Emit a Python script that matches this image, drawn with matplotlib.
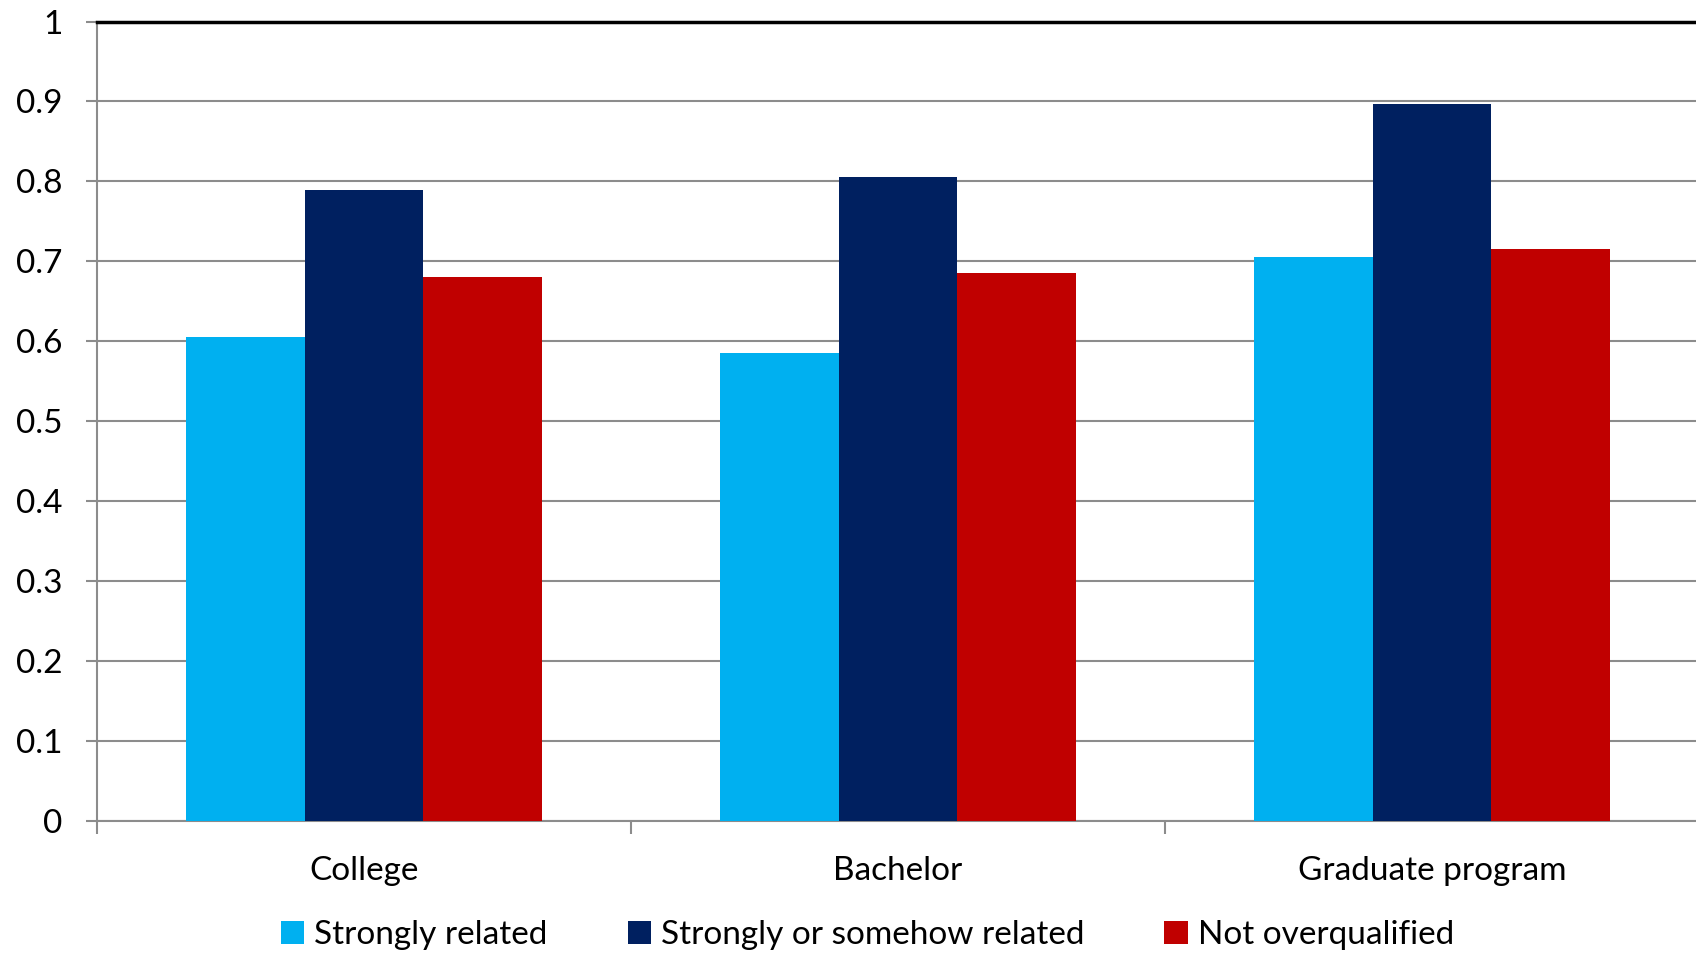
import matplotlib.pyplot as plt
import numpy as np

categories = ["College", "Bachelor", "Graduate program"]
series_names = ["Strongly related", "Strongly or somehow related", "Not overqualified"]
strongly_related = [0.606, 0.585, 0.705]
strongly_or_somehow = [0.789, 0.806, 0.897]
not_overqualified = [0.681, 0.685, 0.716]
y_ticks = [0, 0.1, 0.2, 0.3, 0.4, 0.5, 0.6, 0.7, 0.8, 0.9, 1]
y_tick_labels = ["0", "0.1", "0.2", "0.3", "0.4", "0.5", "0.6", "0.7", "0.8", "0.9", "1"]

colors = ["#00B0F0", "#002060", "#C00000"]


def main():
    plt.rcParams["font.family"] = ["Lato", "DejaVu Sans"]
    fig = plt.figure(figsize=(16.96, 9.59), dpi=100)
    ax = fig.add_axes([97 / 1696, 1 - 821 / 959, (1699 - 97) / 1696, (821 - 21.5) / 959])

    x = np.arange(len(categories))
    width = 0.222
    all_series = [strongly_related, strongly_or_somehow, not_overqualified]
    for i, (name, vals) in enumerate(zip(series_names, all_series)):
        ax.bar(x + (i - 1) * width, vals, width, color=colors[i], label=name, zorder=3)

    ax.set_xlim(-0.5, len(categories) - 0.5)
    ax.set_ylim(0, 1)
    ax.set_yticks(y_ticks)
    ax.set_yticklabels(y_tick_labels)
    ax.yaxis.grid(True, color="#8c8c8c", linewidth=1.5, zorder=0)
    ax.axhline(1, color="black", linewidth=2.5, zorder=4, clip_on=False)

    ax.set_xticks(np.arange(len(categories) + 1) - 0.5)
    ax.set_xticklabels([])
    ax.set_xticks(x, minor=True)
    ax.set_xticklabels(categories, minor=True)
    ax.tick_params(axis="x", which="minor", length=0, pad=25, labelsize=24)
    ax.tick_params(axis="x", which="major", length=9, width=1.5, color="#8c8c8c")
    ax.tick_params(axis="y", length=8, width=1.5, color="#8c8c8c", labelsize=24, pad=17)

    for side in ["top", "right"]:
        ax.spines[side].set_visible(False)
    for side in ["left", "bottom"]:
        ax.spines[side].set_color("#8c8c8c")
        ax.spines[side].set_linewidth(1.5)

    fig.legend(
        loc="center", bbox_to_anchor=(0.5115, 1 - 935 / 959), ncol=3, frameon=False,
        fontsize=24, handlelength=0.7, handleheight=0.7, handletextpad=0.3, columnspacing=2.4,
    )

    fig.savefig("out.png", dpi=100)


if __name__ == "__main__":
    main()
